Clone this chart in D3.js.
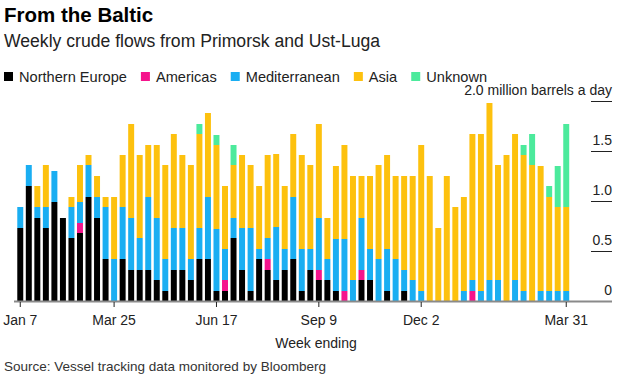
<!DOCTYPE html>
<meta charset="utf-8">
<html lang="en">
<head>
<title>From the Baltic</title>
<style>
  html, body { margin: 0; padding: 0; background: #fff; }
  svg { display: block; font-family: "Liberation Sans", Arial, sans-serif; }
  .title { font-size: 20.5px; font-weight: bold; fill: #000; }
  .subtitle { font-size: 17.6px; fill: #222; }
  .legend-text { font-size: 14.6px; fill: #222; }
  .tick-label { font-size: 14px; fill: #222; }
  .source { font-size: 13.5px; fill: #333; }
</style>
</head>
<body>
<div id="chart"></div>

<script src="https://d3js.org/d3.v7.min.js"></script>
<script>
// weekly values, million barrels a day (week ending Jan 7 2018 .. Mar 31 2019)
const startWeek = new Date(2018, 0, 7);
const northernEurope = [0.73, 1.15, 0.83, 0.73, 0.99, 0.83, 0.63, 0.68, 1.04, 0.83, 0.42, 0, 0.42, 0.31, 0.31, 0.31,
  0.21, 0.10, 0.31, 0.31, 0.21, 0.42, 0.42, 0.10, 0.10, 0.63, 0.31, 0.10, 0.42, 0.31, 0.21, 0.31,
  0.42, 0.10, 0.31, 0.21, 0.21, 0.10, 0, 0, 0.21, 0.21, 0, 0.10, 0, 0.10, 0, 0,
  0, 0, 0, 0, 0, 0, 0, 0, 0, 0, 0, 0, 0, 0, 0, 0, 0];
const americas = [0, 0, 0, 0, 0, 0, 0, 0.10, 0, 0, 0, 0, 0, 0, 0, 0,
  0, 0, 0, 0, 0, 0, 0, 0, 0.11, 0, 0, 0, 0, 0.11, 0, 0,
  0, 0, 0, 0.10, 0, 0, 0.10, 0, 0.10, 0, 0, 0, 0, 0, 0, 0,
  0, 0, 0, 0, 0, 0.10, 0, 0, 0, 0, 0, 0, 0, 0, 0, 0, 0];
const mediterranean = [0.21, 0.21, 0.11, 0.21, 0.31, 0, 0.31, 0.21, 0.32, 0.21, 0.52, 0.42, 0.52, 0.52, 0.32, 0.73,
  0.62, 0.32, 0.42, 0.42, 0.21, 0.31, 0.62, 0.62, 0.31, 0.20, 0.42, 0.63, 0.10, 0.21, 0.53, 0.21,
  0.62, 0.42, 0.21, 0.52, 0.21, 0.52, 0.52, 0.21, 0.52, 0.31, 0.42, 0.42, 0.42, 0.21, 0.21, 0.10,
  0, 0, 0, 0, 0.10, 0.11, 0.10, 0.21, 0.21, 0, 0.21, 0.10, 0, 0.10, 0.10, 0.10, 0.10];
const asia = [0, 0, 0.21, 0.42, 0, 0, 0.10, 0.37, 0.10, 0.21, 0.10, 0.62, 0.52, 0.94, 0.83, 0.52,
  0.73, 0.94, 0.94, 0.73, 0.94, 0.94, 0.84, 0.84, 0.63, 0.53, 0.73, 0.63, 0.63, 0.83, 0.73, 0.63,
  0.63, 0.94, 0.84, 0.94, 0.41, 0.73, 0.94, 1.04, 0.42, 0.73, 0.94, 0.94, 0.83, 0.94, 1.04, 1.46,
  1.25, 0.73, 1.25, 0.94, 0.94, 1.46, 1.57, 1.77, 1.15, 1.46, 1.46, 1.36, 1.36, 1.25, 0.94, 0.84, 0.84];
const unknown = [0, 0, 0, 0, 0, 0, 0, 0, 0, 0, 0, 0, 0, 0, 0, 0,
  0, 0, 0, 0, 0, 0.10, 0, 0.10, 0, 0.20, 0, 0, 0, 0, 0, 0,
  0, 0, 0, 0, 0, 0, 0, 0, 0, 0, 0, 0, 0, 0, 0, 0,
  0, 0, 0, 0, 0, 0, 0, 0, 0, 0, 0, 0.10, 0.31, 0, 0.11, 0.41, 0.83];

const seriesNames = ["Northern Europe", "Americas", "Mediterranean", "Asia", "Unknown"];
const seriesColors = ["#000000", "#f5148c", "#1aaef2", "#fdc10e", "#4cea9c"];
const yTicks = [0, 0.5, 1.0, 1.5, 2.0];
const xTickWeeks = ["Jan 7", "Mar 25", "Jun 17", "Sep 9", "Dec 2", "Mar 31"];

const width = 623, height = 378;
const weeks = d3.timeWeek.range(startWeek, d3.timeWeek.offset(startWeek, northernEurope.length));
const fmt = d3.timeFormat("%b %-d");

// table for the stack
const table = weeks.map((w, i) => ({
  week: w,
  "Northern Europe": northernEurope[i],
  "Americas": americas[i],
  "Mediterranean": mediterranean[i],
  "Asia": asia[i],
  "Unknown": unknown[i]
}));

const svg = d3.select("#chart").append("svg")
  .attr("width", width)
  .attr("height", height);

const x = d3.scaleBand()
  .domain(weeks)
  .range([16, 570.5])
  .paddingInner(0.3)
  .paddingOuter(0.15);

const y = d3.scaleLinear()
  .domain([0, 2])
  .range([301, 101]);

const color = d3.scaleOrdinal().domain(seriesNames).range(seriesColors);

// titles
svg.append("text").attr("class", "title").attr("x", 4).attr("y", 22).text("From the Baltic");
svg.append("text").attr("class", "subtitle").attr("x", 4).attr("y", 47)
  .text("Weekly crude flows from Primorsk and Ust-Luga");

// legend
const legend = svg.append("g").attr("transform", "translate(4,72)");
let lx = 0;
seriesNames.forEach(name => {
  const g = legend.append("g").attr("transform", `translate(${lx},0)`);
  g.append("rect").attr("x", 0).attr("y", 0).attr("width", 9).attr("height", 9).attr("fill", color(name));
  const t = g.append("text").attr("class", "legend-text").attr("x", 15).attr("y", 10).text(name);
  lx += 15 + t.node().getComputedTextLength() + 14;
});

// stacked bars
const stacked = d3.stack().keys(seriesNames)(table);
svg.append("g").selectAll("g")
  .data(stacked)
  .join("g")
  .attr("fill", d => color(d.key))
  .selectAll("rect")
  .data(d => d.filter(s => s[1] - s[0] > 0))
  .join("rect")
  .attr("x", d => x(d.data.week))
  .attr("width", x.bandwidth())
  .attr("y", d => y(d[1]))
  .attr("height", d => y(d[0]) - y(d[1]));

// y axis on the right: short lines with labels above
const yAxis = svg.append("g");
yTicks.filter(v => v > 0).forEach(v => {
  yAxis.append("line")
    .attr("x1", 591).attr("x2", 612)
    .attr("y1", y(v) + 0.5).attr("y2", y(v) + 0.5)
    .attr("stroke", "#222").attr("stroke-width", 1);
});
yAxis.selectAll("text")
  .data(yTicks)
  .join("text")
  .attr("class", "tick-label")
  .attr("x", 612)
  .attr("y", d => y(d) - 6)
  .attr("text-anchor", "end")
  .text(d => d === 0 ? "0" : d === 2 ? "2.0 million barrels a day" : d.toFixed(1));

// baseline
svg.append("line")
  .attr("x1", 14).attr("x2", 612)
  .attr("y1", y(0) + 0.5).attr("y2", y(0) + 0.5)
  .attr("stroke", "#8a8a8a").attr("stroke-width", 2);

// x axis
const tickDates = weeks.filter(w => xTickWeeks.includes(fmt(w)));
const xAxis = svg.append("g")
  .attr("transform", `translate(0,${y(0) + 1})`)
  .call(d3.axisBottom(x).tickValues(tickDates).tickFormat(fmt).tickSize(5).tickPadding(8));
xAxis.select(".domain").remove();
xAxis.selectAll("line").attr("stroke", "#222");
xAxis.selectAll("text").attr("class", "tick-label").attr("fill", "#222")
  .style("font-family", "Liberation Sans, Arial, sans-serif").style("font-size", "14px");

svg.append("text").attr("class", "tick-label").attr("x", 316).attr("y", 348)
  .attr("text-anchor", "middle").text("Week ending");

svg.append("text").attr("class", "source").attr("x", 4).attr("y", 371)
  .text("Source: Vessel tracking data monitored by Bloomberg");
</script>
</body>
</html>
